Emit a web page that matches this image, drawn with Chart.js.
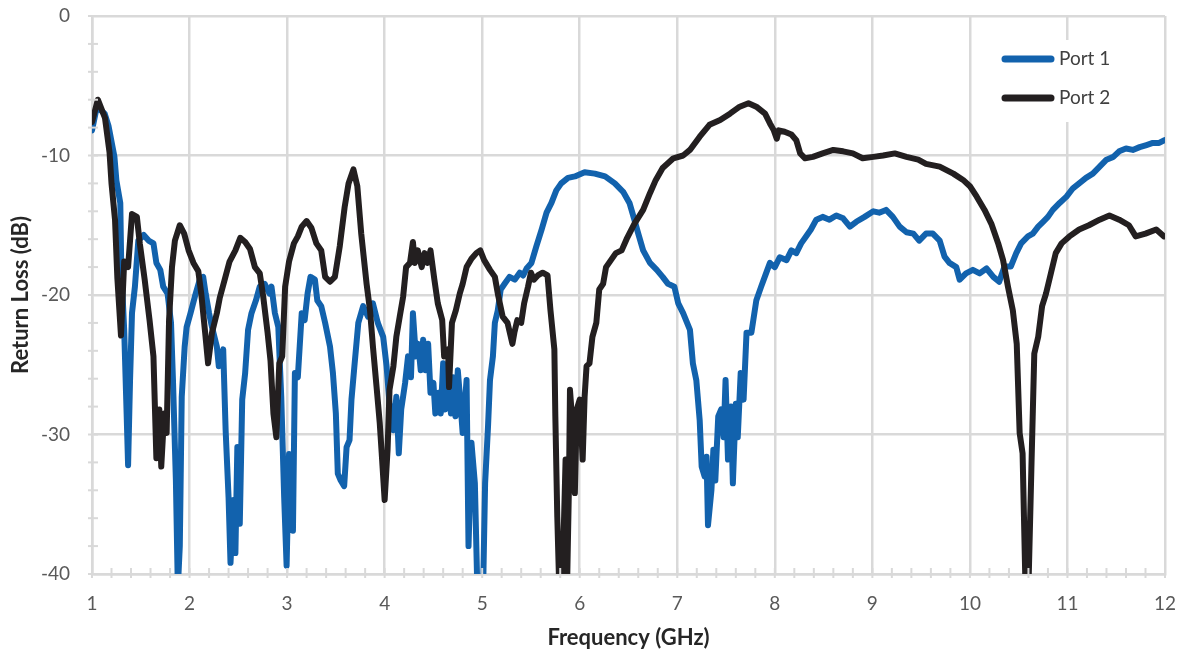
<!DOCTYPE html>
<html>
<head>
<meta charset="utf-8">
<script src="https://cdn.jsdelivr.net/npm/chart.js@4.4.1/dist/chart.umd.min.js"></script>
<style>
  html, body { margin: 0; padding: 0; background: #ffffff; }
  #wrap { position: relative; width: 1185px; height: 655px; }
</style>
</head>
<body>
<div id="wrap"><canvas id="c" width="1185" height="655"></canvas></div>
<script>
// ---- Data ----
const seriesNames = ["Port 1", "Port 2"];
const xTickValues = [1, 2, 3, 4, 5, 6, 7, 8, 9, 10, 11, 12];
const yTickValues = [0, -10, -20, -30, -40];

// Port 1 (blue)
const freq1 = [1.0,1.05,1.13,1.17,1.23,1.25,1.29,1.30,1.33,1.355,1.37,1.39,1.41,1.44,1.475,1.53,1.58,1.63,1.66,1.70,1.73,1.775,1.81,1.83,1.86,1.88,1.90,1.92,1.95,1.97,2.01,2.055,2.105,2.14,2.165,2.20,2.23,2.28,2.30,2.345,2.37,2.40,2.42,2.45,2.47,2.49,2.515,2.54,2.57,2.60,2.635,2.68,2.72,2.77,2.82,2.84,2.875,2.91,2.94,2.97,2.995,3.02,3.045,3.06,3.08,3.11,3.15,3.18,3.21,3.24,3.285,3.31,3.35,3.39,3.44,3.47,3.50,3.52,3.55,3.585,3.61,3.64,3.66,3.69,3.73,3.78,3.83,3.88,3.93,3.985,4.02,4.05,4.09,4.12,4.145,4.17,4.21,4.24,4.27,4.29,4.32,4.344,4.37,4.395,4.42,4.446,4.47,4.50,4.52,4.55,4.575,4.60,4.62,4.65,4.68,4.70,4.726,4.75,4.78,4.80,4.84,4.86,4.89,4.925,4.95,5.01,5.03,5.06,5.08,5.11,5.13,5.16,5.19,5.23,5.28,5.335,5.385,5.42,5.455,5.505,5.556,5.61,5.66,5.71,5.76,5.81,5.88,5.95,6.05,6.155,6.26,6.36,6.445,6.51,6.56,6.60,6.65,6.72,6.79,6.85,6.905,6.97,7.01,7.06,7.13,7.16,7.195,7.23,7.25,7.28,7.30,7.315,7.35,7.37,7.39,7.42,7.45,7.475,7.495,7.52,7.55,7.57,7.60,7.62,7.65,7.68,7.71,7.76,7.81,7.86,7.91,7.95,8.0,8.05,8.12,8.17,8.22,8.27,8.32,8.37,8.425,8.49,8.56,8.63,8.70,8.77,8.835,8.92,9.01,9.07,9.14,9.21,9.28,9.35,9.42,9.48,9.55,9.62,9.69,9.74,9.79,9.86,9.895,9.96,10.03,10.10,10.17,10.24,10.30,10.355,10.42,10.475,10.525,10.595,10.645,10.70,10.75,10.80,10.85,10.92,10.99,11.056,11.12,11.19,11.26,11.33,11.40,11.47,11.53,11.60,11.67,11.74,11.81,11.875,11.94,11.995];
const rl1 = [-8.2,-6.5,-7.0,-7.9,-10.1,-11.8,-13.4,-18.0,-22.5,-28.5,-32.2,-26.1,-21.3,-19.4,-16.1,-15.7,-16.1,-16.3,-17.7,-18.2,-19.4,-19.9,-22.0,-26.1,-33.3,-41,-38,-27.3,-23.7,-22.3,-21.3,-20.1,-18.9,-18.7,-19.9,-21.3,-22.3,-23.7,-25.1,-23.9,-29.7,-34.5,-39.2,-34.7,-38.5,-30.9,-36.4,-27.5,-25.6,-22.5,-21.3,-20.4,-19.4,-19.2,-19.9,-19.4,-21.3,-22.3,-27.3,-34.5,-39.4,-31.4,-33.3,-36.9,-25.6,-25.9,-21.3,-21.8,-19.9,-18.7,-18.9,-20.4,-20.8,-22.0,-23.7,-25.6,-28.5,-32.8,-33.3,-33.7,-30.9,-30.4,-27.5,-25.1,-22.0,-20.8,-21.55,-20.6,-22.0,-23.0,-25.1,-27.8,-29.7,-27.3,-31.35,-28.2,-26.3,-24.4,-25.9,-21.3,-24.4,-23.5,-25.4,-23.2,-25.4,-23.5,-27.0,-26.3,-28.5,-27.0,-28.5,-24.9,-28.2,-26.3,-28.5,-25.9,-28.7,-25.4,-28.0,-29.9,-26.1,-38.0,-30.6,-33.5,-41,-41,-33.5,-29.4,-26.1,-24.4,-22.0,-21.1,-19.6,-19.2,-18.7,-18.9,-18.4,-18.6,-18.1,-17.7,-16.5,-15.3,-14.1,-13.4,-12.5,-12.0,-11.6,-11.5,-11.2,-11.3,-11.5,-12.0,-12.6,-13.4,-14.6,-15.6,-16.8,-17.7,-18.2,-18.7,-19.2,-19.4,-20.6,-21.3,-22.5,-24.9,-26.1,-29.0,-32.3,-33.0,-31.6,-36.5,-34.0,-31.1,-33.3,-28.7,-28.2,-30.2,-26.1,-31.8,-28.0,-33.5,-27.8,-30.2,-25.6,-27.5,-22.7,-22.7,-20.4,-19.4,-18.45,-17.7,-18.0,-17.3,-17.5,-16.8,-17.0,-16.3,-15.8,-15.3,-14.6,-14.4,-14.6,-14.3,-14.5,-15.1,-14.75,-14.4,-14.0,-14.1,-13.9,-14.4,-15.1,-15.5,-15.6,-16.1,-15.6,-15.6,-16.1,-17.25,-17.7,-18.0,-18.9,-18.45,-18.2,-18.45,-18.1,-18.7,-19.05,-17.95,-17.95,-17.0,-16.3,-15.8,-15.6,-15.1,-14.75,-14.4,-13.9,-13.4,-12.95,-12.35,-12.0,-11.6,-11.3,-10.8,-10.3,-10.1,-9.7,-9.5,-9.6,-9.4,-9.25,-9.1,-9.1,-8.9];

// Port 2 (black)
const freq2 = [1.0,1.06,1.133,1.18,1.2,1.236,1.26,1.297,1.33,1.37,1.41,1.46,1.49,1.54,1.59,1.63,1.66,1.69,1.71,1.74,1.765,1.79,1.82,1.85,1.90,1.945,1.99,2.04,2.09,2.12,2.16,2.19,2.23,2.28,2.31,2.36,2.41,2.47,2.52,2.57,2.62,2.67,2.72,2.755,2.80,2.83,2.86,2.89,2.92,2.95,2.98,3.02,3.07,3.11,3.15,3.20,3.25,3.30,3.35,3.39,3.44,3.49,3.54,3.59,3.63,3.68,3.72,3.76,3.815,3.85,3.88,3.92,3.95,3.97,4.0,4.03,4.05,4.09,4.12,4.155,4.19,4.22,4.26,4.29,4.31,4.34,4.38,4.41,4.44,4.47,4.51,4.545,4.59,4.61,4.65,4.66,4.69,4.73,4.77,4.80,4.84,4.89,4.94,4.98,5.02,5.08,5.13,5.16,5.21,5.26,5.31,5.33,5.36,5.40,5.43,5.47,5.50,5.53,5.57,5.62,5.67,5.70,5.74,5.75,5.77,5.79,5.82,5.84,5.855,5.87,5.89,5.90,5.92,5.95,5.97,6.0,6.03,6.05,6.07,6.10,6.13,6.17,6.20,6.24,6.27,6.32,6.37,6.43,6.48,6.56,6.65,6.72,6.78,6.85,6.96,7.06,7.13,7.23,7.33,7.44,7.54,7.64,7.73,7.81,7.90,7.95,7.99,8.02,8.04,8.10,8.17,8.22,8.26,8.31,8.39,8.49,8.60,8.70,8.80,8.90,9.01,9.11,9.23,9.35,9.47,9.55,9.69,9.83,9.93,10.0,10.07,10.15,10.22,10.29,10.34,10.39,10.44,10.48,10.51,10.54,10.57,10.60,10.63,10.66,10.70,10.74,10.78,10.83,10.88,10.94,11.02,11.12,11.22,11.33,11.43,11.53,11.63,11.70,11.80,11.91,11.99];
const rl2 = [-7.6,-6.0,-7.3,-9.8,-12.0,-14.6,-18.8,-22.9,-17.6,-18.0,-14.2,-14.4,-16.3,-18.9,-21.8,-24.4,-31.7,-28.2,-32.3,-28.5,-29.9,-21.8,-18.0,-16.1,-15.0,-15.6,-16.8,-17.7,-18.3,-19.9,-22.7,-24.9,-22.7,-21.3,-20.2,-18.9,-17.6,-16.8,-15.9,-16.2,-16.7,-18.0,-18.45,-20.1,-22.7,-24.7,-28.5,-30.2,-24.9,-24.4,-19.4,-17.6,-16.3,-15.8,-15.1,-14.7,-15.2,-16.3,-16.8,-18.7,-19.05,-18.7,-16.5,-13.7,-12.0,-11.0,-12.2,-15.6,-19.2,-21.1,-23.7,-26.8,-29.2,-31.35,-34.7,-31.1,-26.8,-25.1,-23.0,-21.55,-20.1,-18.0,-17.7,-16.2,-17.7,-16.8,-18.0,-17.0,-17.7,-16.8,-18.9,-20.6,-21.8,-24.4,-23.9,-26.6,-22.0,-21.1,-19.9,-19.2,-18.0,-17.4,-17.0,-16.8,-17.5,-18.2,-18.7,-19.9,-21.55,-22.0,-23.5,-22.7,-21.8,-22.0,-20.6,-19.4,-18.4,-18.9,-18.6,-18.4,-18.6,-21.1,-23.9,-28.7,-35.9,-41,-41,-35.9,-31.8,-41,-33.5,-26.8,-28.7,-34.2,-28.2,-27.5,-31.8,-27.3,-25.1,-24.9,-23.0,-22.0,-19.6,-19.2,-18.0,-17.5,-17.0,-16.8,-16.0,-14.9,-13.9,-12.7,-11.75,-10.9,-10.2,-10.0,-9.6,-8.65,-7.8,-7.45,-7.0,-6.5,-6.25,-6.5,-7.0,-7.7,-8.2,-8.8,-8.2,-8.3,-8.5,-8.9,-9.85,-10.2,-10.1,-9.85,-9.6,-9.7,-9.85,-10.2,-10.1,-10.0,-9.85,-10.1,-10.3,-10.6,-10.8,-11.3,-11.75,-12.2,-12.95,-13.9,-14.9,-16.3,-17.5,-19.4,-21.1,-23.5,-29.9,-31.35,-41,-41,-32.5,-24.2,-23.0,-20.8,-19.9,-18.45,-17.0,-16.3,-15.8,-15.3,-15.0,-14.6,-14.3,-14.6,-15.0,-15.8,-15.6,-15.3,-15.8];

const toPoints = (xs, ys) => xs.map((x, i) => ({ x: x, y: ys[i] }));

const FONT = "Lato, 'Open Sans', 'Liberation Sans', sans-serif";
const GRID = '#d9d9d9';

// Minor tick marks drawn through the scales
const minorTicks = {
  id: 'minorTicks',
  afterDatasetsDraw(chart) {
    const { ctx, chartArea, scales } = chart;
    const xs = scales.x, ys = scales.y;
    ctx.save();
    ctx.strokeStyle = GRID;
    ctx.lineWidth = 2;
    for (let v = -40; v <= 0; v += 2) {
      const py = ys.getPixelForValue(v);
      ctx.beginPath();
      ctx.moveTo(chartArea.left - 4, py);
      ctx.lineTo(chartArea.left + 6, py);
      ctx.stroke();
    }
    for (let k = 10; k <= 120; k += 2) {
      const px = xs.getPixelForValue(k / 10);
      ctx.beginPath();
      ctx.moveTo(px, chartArea.bottom - 6);
      ctx.lineTo(px, chartArea.bottom + 4);
      ctx.stroke();
    }
    ctx.restore();
  }
};

// Legend inside the plot area, upper right
const innerLegend = {
  id: 'innerLegend',
  afterDraw(chart) {
    const { ctx, chartArea } = chart;
    const ds = chart.data.datasets;
    const boxW = 150, rowH = 39;
    const x0 = chartArea.right - 176;
    const y0 = chartArea.top + 24;
    ctx.save();
    ctx.fillStyle = '#ffffff';
    ctx.fillRect(x0, y0, boxW, rowH * ds.length + 4);
    ctx.font = '19px ' + FONT;
    ctx.textBaseline = 'middle';
    ds.forEach((d, i) => {
      const cy = y0 + 19 + i * rowH;
      ctx.strokeStyle = d.borderColor;
      ctx.lineWidth = 7;
      ctx.lineCap = 'round';
      ctx.beginPath();
      ctx.moveTo(x0 + 16, cy);
      ctx.lineTo(x0 + 62, cy);
      ctx.stroke();
      ctx.fillStyle = '#404040';
      ctx.fillText(d.label, x0 + 70, cy);
    });
    ctx.restore();
  }
};

new Chart(document.getElementById('c'), {
  type: 'line',
  data: {
    datasets: [
      { label: seriesNames[0], data: toPoints(freq1, rl1), borderColor: '#1262ad', borderWidth: 6, pointRadius: 0, tension: 0, order: 1, borderJoinStyle: 'round', borderCapStyle: 'round' },
      { label: seriesNames[1], data: toPoints(freq2, rl2), borderColor: '#231f20', borderWidth: 6, pointRadius: 0, tension: 0, order: 0, borderJoinStyle: 'round', borderCapStyle: 'round' }
    ]
  },
  options: {
    responsive: false,
    animation: false,
    devicePixelRatio: 1,
    layout: { padding: { left: 0, right: 20, top: 16, bottom: 0 } },
    plugins: { legend: { display: false }, tooltip: { enabled: false } },
    scales: {
      x: {
        type: 'linear', min: 1, max: 12,
        afterBuildTicks: (s) => { s.ticks = xTickValues.map(v => ({ value: v })); },
        afterFit: (s) => { s.height = 81; },
        grid: { color: GRID, lineWidth: 2.5, drawTicks: true, tickLength: 18, tickColor: 'rgba(0,0,0,0)' },
        border: { color: GRID, width: 2.5 },
        ticks: { color: '#595959', font: { family: FONT, size: 19 }, padding: 0 },
        title: { display: true, text: 'Frequency (GHz)', color: '#262626', font: { family: FONT, size: 22, weight: 'bold' }, padding: { top: 4, bottom: 4 } }
      },
      y: {
        type: 'linear', min: -40, max: 0,
        afterBuildTicks: (s) => { s.ticks = yTickValues.map(v => ({ value: v })); },
        afterFit: (s) => { s.width = 92; },
        grid: { color: GRID, lineWidth: 2.5, drawTicks: true, tickLength: 22, tickColor: 'rgba(0,0,0,0)' },
        border: { color: GRID, width: 2.5 },
        ticks: { color: '#595959', font: { family: FONT, size: 19 }, padding: 0 },
        title: { display: true, text: 'Return Loss (dB)', color: '#262626', font: { family: FONT, size: 22, weight: 'bold' }, padding: { bottom: 0, top: 8 } }
      }
    }
  },
  plugins: [minorTicks, innerLegend]
});
</script>
</body>
</html>
